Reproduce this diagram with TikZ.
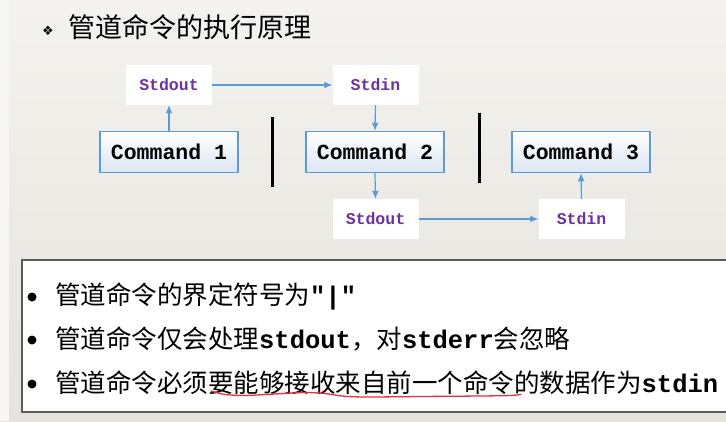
\documentclass[tikz,border=0pt]{standalone}
\usepackage{fontspec}
\newfontfamily\cjk{Noto Sans CJK SC}
\newfontfamily\monof{Liberation Mono}
\newfontfamily\dejavu{DejaVu Sans}
\usetikzlibrary{arrows.meta}
\definecolor{bgtop}{HTML}{F4F2EE}
\definecolor{bgbot}{HTML}{E6E3DE}
\definecolor{stripc}{HTML}{F6F6F6}
\definecolor{arrowc}{HTML}{5B9BD5}
\definecolor{boxblue}{HTML}{5B9BD5}
\definecolor{cmdfill}{HTML}{DDE6F4}
\definecolor{purp}{HTML}{7030A0}
\definecolor{boxborder}{HTML}{5A5A5A}
\definecolor{penred}{HTML}{E8303A}
\tikzset{
  sbox/.style={fill=white, minimum width=86pt, minimum height=40pt, inner sep=0pt,
    font=\monof\bfseries\fontsize{16.5}{18}\selectfont, text=purp},
  cbox/.style={draw=boxblue, line width=1.5pt, top color=white, bottom color=cmdfill,
    minimum width=138pt, minimum height=41pt, inner sep=0pt,
    font=\monof\bfseries\fontsize{21.5}{24}\selectfont},
  flow/.style={draw=arrowc, line width=1.2pt, -{Latex[length=8pt,width=7pt]}},
  pipebar/.style={draw=black, line width=3pt},
  bodytext/.style={anchor=west, inner sep=0pt, font=\cjk\fontsize{25.5}{30}\selectfont},
  dot/.style={circle, fill=black, inner sep=0pt, minimum size=9pt},
}
\begin{document}
\begin{tikzpicture}[x=1pt,y=-1pt]
\useasboundingbox (0,0) rectangle (726,421);
\shade[top color=bgtop,bottom color=bgbot] (0,0) rectangle (726,421);
\fill[stripc] (0,0) rectangle (9,421);
% title
\node[inner sep=0pt, font=\dejavu\fontsize{13}{14}\selectfont] (tb) at (48,31) {❖};
\node[anchor=west, inner sep=0pt, font=\cjk\fontsize{27}{30}\selectfont] (title) at (68,27) {管道命令的执行原理};
% nodes
\node[sbox] (so1) at (169,85) {Stdout};
\node[sbox] (si1) at (375.5,85) {Stdin};
\node[cbox] (c1) at (169,152) {Command 1};
\node[cbox] (c2) at (375,152) {Command 2};
\node[cbox] (c3) at (581,152) {Command 3};
\node[sbox] (so2) at (375.5,219) {Stdout};
\node[sbox] (si2) at (581.5,219) {Stdin};
% arrows
\draw[flow] (c1.north) -- (so1.south);
\draw[flow] (so1.east) -- (si1.west);
\draw[flow] (si1.south) -- (c2.north);
\draw[flow] (c2.south) -- (so2.north);
\draw[flow] (so2.east) -- (si2.west);
\draw[flow] (si2.north) -- (c3.south);
% pipe bars
\coordinate (p1a) at (272,117); \coordinate (p1b) at (272,187);
\coordinate (p2a) at (479,113); \coordinate (p2b) at (479,183);
\draw[pipebar] (p1a) -- (p1b);
\draw[pipebar] (p2a) -- (p2b);
% bottom box
\draw[draw=boxborder, line width=1.5pt, fill=white] (22,260) rectangle (740,412);
\node[dot] (b1) at (32,297) {};
\node[dot] (b2) at (32,340) {};
\node[dot] (b3) at (32,384) {};
\node[bodytext] (l1) at (55,296) {管道命令的界定符号为{\monof\bfseries "|"}};
\node[bodytext] (l2) at (55,339) {管道命令仅会处理{\monof\bfseries stdout}，对{\monof\bfseries stderr}会忽略};
\node[bodytext] (l3) at (55,383) {管道命令必须要能够接收来自前一个命令的数据作为{\monof\bfseries stdin}};
% red underline
\draw[penred, line width=1.3pt, line cap=round] plot[smooth] coordinates {(211,391) (225,394.5) (245,395.5) (275,394) (305,392.5) (325,393.5) (342,396) (365,397) (420,396.5) (480,396) (510,395.5) (521,394.5)};
\end{tikzpicture}
\end{document}
